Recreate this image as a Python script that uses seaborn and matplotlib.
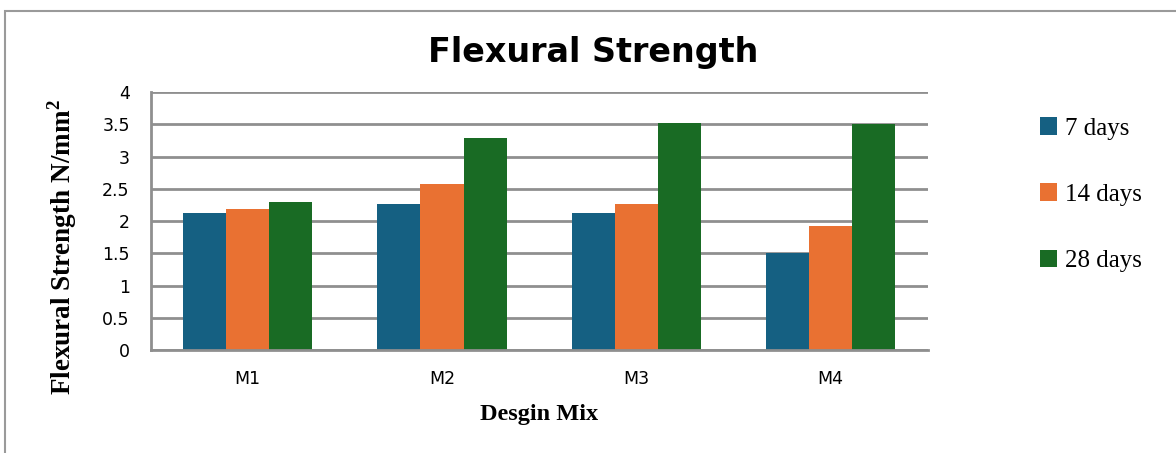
import pandas as pd
import seaborn as sns
import matplotlib.pyplot as plt
from matplotlib.patches import Rectangle

# Chart data
mixes = ["M1", "M2", "M3", "M4"]
days_7 = [2.13, 2.27, 2.12, 1.51]
days_14 = [2.18, 2.57, 2.27, 1.93]
days_28 = [2.29, 3.29, 3.52, 3.51]
ages = ["7 days", "14 days", "28 days"]
y_ticks = [0, 0.5, 1, 1.5, 2, 2.5, 3, 3.5, 4]

# Long form table for seaborn
rows = []
for age, vals in zip(ages, [days_7, days_14, days_28]):
    for mix, v in zip(mixes, vals):
        rows.append({"Mix": mix, "Age": age, "Strength": v})
df = pd.DataFrame(rows)

colors = ["#156082", "#E97132", "#196B24"]
grid_col = "#8f8f8f"

sns.set_style("white")
plt.rcParams["text.color"] = "black"
plt.rcParams["xtick.labelcolor"] = "black"
plt.rcParams["ytick.labelcolor"] = "black"
plt.rcParams["axes.labelcolor"] = "black"

fig = plt.figure(figsize=(11.76, 4.53), dpi=100)
ax = fig.add_axes([0.128, 0.227, 0.661, 0.570])

sns.barplot(data=df, x="Mix", y="Strength", hue="Age", hue_order=ages,
            palette=colors, width=0.665, gap=0, saturation=1, ax=ax,
            edgecolor="none", legend=True)

ax.set_ylim(0, 4)
ax.set_yticks(y_ticks)
ax.set_yticklabels([f"{t:g}" for t in y_ticks], fontsize=12.5, family="DejaVu Sans")
ax.set_xticks(range(len(mixes)))
ax.set_xticklabels(mixes, fontsize=12.5, family="DejaVu Sans")
ax.set_xlim(-0.5, 3.5)
ax.yaxis.grid(True, color=grid_col, linewidth=2)
ax.set_axisbelow(True)
for s in ["top", "right"]:
    ax.spines[s].set_visible(False)
ax.spines["left"].set_color(grid_col)
ax.spines["left"].set_linewidth(2)
ax.spines["bottom"].set_color(grid_col)
ax.spines["bottom"].set_linewidth(2)
ax.tick_params(axis="y", length=7, width=2, color=grid_col, pad=8)
ax.tick_params(axis="x", length=0, pad=14)

ax.set_ylabel("Flexural Strength N/mm$^\\mathregular{2}$", fontsize=19.5,
              family="Liberation Serif", fontweight="bold")
ax.yaxis.set_label_coords(-0.092, 0.40)
ax.set_xlabel("Desgin Mix", fontsize=17.5, family="Liberation Serif",
              fontweight="bold", labelpad=12)

fig.text(0.504, 0.885, "Flexural Strength", ha="center", va="center",
         fontsize=24, fontweight="bold", family="DejaVu Sans")

ax.legend(loc="upper left", bbox_to_anchor=(1.115, 0.99), frameon=False,
          prop={"family": "Liberation Serif", "size": 18},
          handlelength=0.7, handleheight=0.7, handletextpad=0.3,
          labelspacing=1.75)

# outer chart frame
fig.patches.append(Rectangle((0.004, -0.1), 1.2, 1.075, transform=fig.transFigure,
                             fill=False, edgecolor="#9a9a9a", linewidth=1.5))

fig.savefig("out.png", dpi=100)
